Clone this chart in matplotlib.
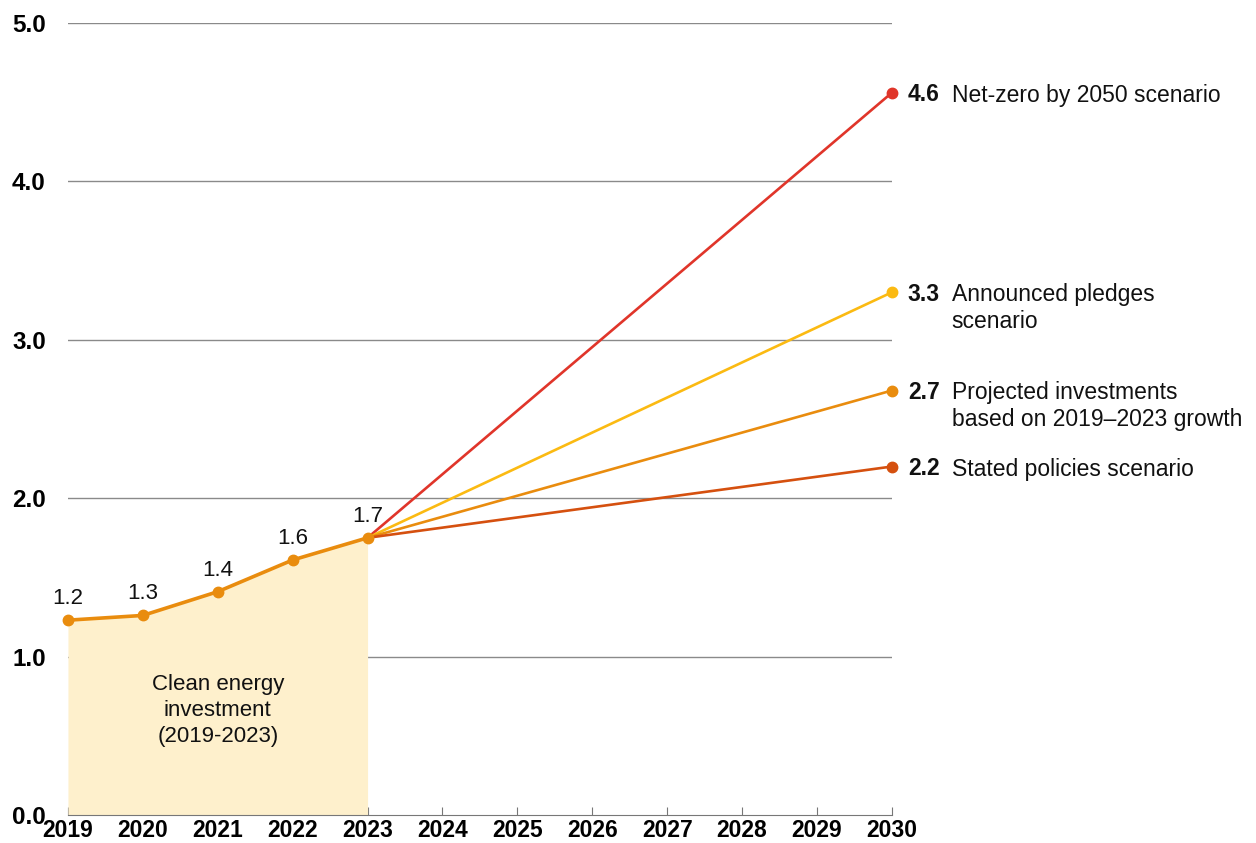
import numpy as np
import matplotlib.pyplot as plt

plt.rcParams['font.family'] = ['Liberation Sans', 'DejaVu Sans']

hist_years = [2019, 2020, 2021, 2022, 2023]
hist_values = [1.23, 1.26, 1.41, 1.61, 1.75]
hist_labels = ["1.2", "1.3", "1.4", "1.6", "1.7"]

scenario_names = ["Net-zero by 2050 scenario",
                  "Announced pledges\nscenario",
                  "Projected investments\nbased on 2019\u20132023 growth",
                  "Stated policies scenario"]
scenario_2030 = [4.56, 3.30, 2.68, 2.20]
scenario_labels = ["4.6", "3.3", "2.7", "2.2"]
scenario_colors = ["#E0352A", "#FBBA12", "#E98C0E", "#D5500F"]

years = list(range(2019, 2031))
yticks = [0, 1, 2, 3, 4, 5]

fig = plt.figure(figsize=(12.56, 8.43), dpi=100)
ax = fig.add_axes([0.0541, 0.0332, 0.656, 0.9395])

ax.set_xlim(2019, 2030)
ax.set_ylim(0, 5)

# gridlines
for y in yticks[1:]:
    ax.axhline(y, color="#8a8a8a", lw=1, zorder=1)

# historical area
ax.fill_between(hist_years, 0, hist_values, color="#FEF0CC", zorder=2, lw=0)
ax.text(2021, 0.66, "Clean energy\ninvestment\n(2019-2023)", ha="center", va="center",
        fontsize=16, linespacing=1.32, color="#111111", zorder=5)

# scenarios
for val, lab, name, c in zip(scenario_2030, scenario_labels, scenario_names, scenario_colors):
    ax.plot([hist_years[-1], 2030], [hist_values[-1], val], color=c, lw=1.9, zorder=3,
            solid_capstyle="round")
    ax.plot(2030, val, "o", color=c, ms=7.5, zorder=4, clip_on=False)
    ax.annotate(lab, (2030, val), xytext=(11.5, -6), textcoords="offset points",
                fontsize=16.5, fontweight="bold", va="baseline", ha="left", color="#111111")
    ax.annotate(name, (2030, val), xytext=(43, 6.5), textcoords="offset points",
                fontsize=16.5, va="top", ha="left", color="#111111", linespacing=1.2)

ax.plot(hist_years, hist_values, color="#E98C0E", lw=2.6, zorder=5, marker="o", ms=7.5,
        clip_on=False)
for x, y, lab in zip(hist_years, hist_values, hist_labels):
    ax.annotate(lab, (x, y), xytext=(0, 8), textcoords="offset points",
                ha="center", va="bottom", fontsize=16, color="#111111", zorder=6)

ax.set_xticks(years)
ax.set_xticklabels([str(y) for y in years], fontsize=16.5, fontweight="bold")
ax.set_yticks(yticks)
ax.set_yticklabels([f"{y:.1f}" for y in yticks], fontsize=17.5, fontweight="bold")
ax.tick_params(axis="x", direction="in", length=6, color="#777777", pad=3)
ax.tick_params(axis="y", length=0, pad=16)
for s in ["top", "right", "left"]:
    ax.spines[s].set_visible(False)
ax.spines["bottom"].set_color("#777777")
ax.spines["bottom"].set_zorder(6)

fig.savefig("out.png", dpi=100)
